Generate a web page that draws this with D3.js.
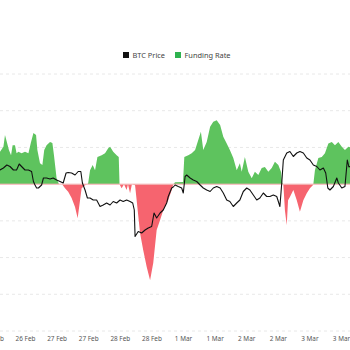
<!DOCTYPE html>
<html>
<head>
<meta charset="utf-8">
<script src="https://cdn.jsdelivr.net/npm/d3@7"></script>
<style>
  html, body { margin: 0; padding: 0; background: #fff; }
  svg { display: block; font-family: "Noto Sans", "Open Sans", sans-serif; }
</style>
</head>
<body>
<script>
"use strict";
// hours since 26 Feb 2025 00:00 UTC
const fundingHours = [1.4, 2.5, 3.8, 4.4, 5.1, 5.9, 6.7, 7.3, 8.2, 8.8, 9.5, 10.7, 12.0, 13.3, 14.2, 15.2, 16.2, 16.7, 17.7, 18.6,
  19.3, 20.2, 21.5, 22.4, 23.0, 24.0, 24.9, 26.1, 27.2, 28.4, 29.7, 31.0, 32.0, 32.9, 33.5, 34.8, 35.7, 36.0, 36.7, 37.7,
  38.6, 39.5, 41.1, 42.4, 43.6, 44.3, 45.5, 46.8, 47.6, 47.9, 48.7, 49.6, 50.6, 51.1, 51.9, 52.6, 53.8, 54.4, 55.7, 56.9,
  58.2, 59.5, 60.7, 62.0, 63.3, 64.5, 65.8, 66.4, 67.7, 68.3, 69.0, 72.0, 72.5, 74.0, 75.3, 76.6, 77.8, 78.8, 79.7, 81.0,
  82.3, 83.5, 84.8, 86.1, 87.3, 88.6, 89.8, 91.1, 92.4, 93.6, 94.3, 95.5, 96.8, 98.1, 99.3, 100.6, 101.9, 103.1, 104.4, 105.7,
  106.9, 108.2, 109.2, 109.7, 110.1, 110.7, 111.4, 111.9, 112.6, 113.9, 115.2, 116.4, 117.7, 119.0, 120.2, 121.3, 121.5, 122.1, 123.4, 124.7,
  125.9, 127.2, 128.5, 129.7, 131.0, 132.3, 133.5, 134.8, 136.6];
const fundingRates = [0.0084, 0.0088, 0.0102, 0.0134, 0.0115, 0.0093, 0.0079, 0.0106, 0.0106, 0.0084, 0.0088, 0.0084, 0.0088, 0.0084, 0.0112, 0.0139, 0.0134, 0.0093, 0.0057, 0.0052,
  0.0093, 0.0106, 0.0115, 0.0112, 0.0079, 0.0016, 0, 0, -0.0011, -0.0021, -0.0038, -0.0062, -0.0093, -0.0044, -0.0011, -0.0003, 0, 0.0003, 0.0038, 0.0052,
  0.0038, 0.0074, 0.0079, 0.0084, 0.0098, 0.0102, 0.0088, 0.0079, 0.0074, 0, -0.0011, 0, -0.0016, 0, -0.0025, 0, -0.0003, -0.0044, -0.0134, -0.0180,
  -0.0225, -0.0262, -0.0215, -0.0125, -0.0098, -0.0071, -0.0052, -0.0044, -0.0016, 0, 0.0005, 0.0006, 0.0074, 0.0079, 0.0084, 0.0093, 0.0120, 0.0143, 0.0093, 0.0115,
  0.0156, 0.0170, 0.0174, 0.0161, 0.0129, 0.0111, 0.0093, 0.0071, 0.0038, 0.0057, 0.0034, 0.0074, 0.0034, 0.0016, 0.0034, 0.0025, 0.0044, 0.0047, 0.0034, 0.0044,
  0.0061, 0.0052, 0.0034, 0.0003, 0, -0.0071, -0.0112, -0.0044, -0.0035, -0.0016, -0.0044, -0.0075, -0.0044, -0.0025, -0.0011, -0.0003, 0, 0.0038, 0.0071, 0.0074,
  0.0084, 0.0111, 0.0115, 0.0106, 0.0115, 0.0102, 0.0093, 0.0102, 0.0098];
const priceHours = [1.4, 2.5, 3.8, 5.1, 6.3, 7.6, 8.8, 9.8, 10.7, 12.0, 13.3, 14.5, 15.2, 15.8, 16.4, 17.1, 18.3, 19.0, 20.2, 21.5,
  22.7, 24.0, 25.3, 26.5, 27.6, 28.4, 29.7, 31.0, 32.2, 33.2, 33.8, 34.8, 35.7, 36.7, 37.9, 39.2, 40.5, 41.7, 43.0, 44.3,
  45.5, 46.8, 48.1, 49.3, 50.6, 51.9, 52.9, 53.5, 53.8, 55.0, 56.3, 57.6, 58.8, 60.1, 61.0, 62.0, 63.3, 64.5, 65.8, 66.4,
  67.7, 68.3, 69.0, 70.2, 71.5, 72.1, 72.8, 73.4, 74.7, 75.9, 77.2, 78.5, 79.7, 81.0, 82.3, 83.5, 84.8, 86.1, 87.3, 88.6,
  89.8, 91.1, 92.4, 93.6, 94.9, 96.2, 97.4, 98.7, 100.0, 101.2, 102.5, 103.8, 105.0, 106.3, 107.6, 108.8, 109.5, 110.1, 111.4, 112.6,
  113.9, 115.2, 116.4, 117.7, 119.0, 120.2, 121.5, 122.8, 124.0, 125.3, 126.2, 127.0, 127.8, 129.1, 130.4, 131.0, 132.3, 133.5, 134.4, 135.0, 136.2];
const prices = [91800, 92000, 92400, 93000, 92700, 92000, 92000, 93200, 92700, 92000, 92000, 91700, 89700, 89000, 88400, 88400, 89000, 90400, 90400, 90200,
  90400, 90000, 89700, 89400, 91400, 91500, 91400, 91000, 91700, 91700, 89400, 88000, 86400, 86400, 86000, 86000, 84700, 85000, 85400, 85000,
  85700, 85400, 86000, 85700, 86000, 85700, 85400, 84000, 78700, 79700, 79400, 80000, 80400, 80700, 83400, 82400, 83400, 84000, 85400, 86700,
  88400, 88600, 89000, 88700, 88400, 87400, 90700, 91000, 90400, 90000, 89700, 89000, 88400, 88000, 87700, 88400, 88700, 88400, 87400, 86000,
  85700, 84700, 85400, 86000, 87700, 88400, 88000, 87000, 86000, 86400, 87400, 86700, 86700, 87000, 86700, 84700, 89400, 94000, 95400, 95700,
  94700, 95400, 95700, 95400, 94400, 94000, 93000, 92700, 92000, 92400, 91400, 88400, 88000, 88700, 90400, 89400, 88400, 88700, 94000, 92600, 93000];
const legendLabels = ["BTC Price", "Funding Rate"];
const rateTicks = [-0.04, -0.03, -0.02, -0.01, 0, 0.01, 0.02, 0.03];

const w = 350, h = 350;
const t0 = Date.UTC(2025, 1, 26, 0);
const toDate = (hr) => new Date(t0 + hr * 3600e3);
const green = "#5ec35e", red = "#f6646f";

const svg = d3.select("body").append("svg").attr("width", w).attr("height", h);
svg.append("rect").attr("width", w).attr("height", h).attr("fill", "#fff");

const x = d3.scaleUtc().domain([toDate(0), toDate(132)]).range([-6.6, 341]);
const yRate = d3.scaleLinear().domain([-0.04, 0.03]).range([331, 74]);
const yPrice = d3.scaleLinear().domain([78000, 96000]).range([240, 150]);

// gridlines
svg.append("g").selectAll("line").data(rateTicks.filter(d => d !== 0)).enter().append("line")
  .attr("x1", 0).attr("x2", w).attr("y1", d => yRate(d)).attr("y2", d => yRate(d))
  .attr("stroke", "#e8e8e8").attr("stroke-dasharray", "3,3");

const funding = fundingHours.map((hr, i) => ({ t: toDate(hr), v: fundingRates[i] }));
const area = d3.area().x(d => x(d.t)).y0(yRate(0)).y1(d => yRate(d.v));

const defs = svg.append("defs");
defs.append("clipPath").attr("id", "above").append("rect")
  .attr("x", 0).attr("y", 0).attr("width", w).attr("height", yRate(0));
defs.append("clipPath").attr("id", "below").append("rect")
  .attr("x", 0).attr("y", yRate(0)).attr("width", w).attr("height", h - yRate(0));

svg.append("path").datum(funding).attr("d", area).attr("fill", green).attr("clip-path", "url(#above)");
svg.append("path").datum(funding).attr("d", area).attr("fill", red).attr("clip-path", "url(#below)");

// zero line
svg.append("line").attr("x1", 0).attr("x2", w).attr("y1", yRate(0)).attr("y2", yRate(0))
  .attr("stroke", "#f7b3b7").attr("stroke-width", 1);

const price = priceHours.map((hr, i) => ({ t: toDate(hr), p: prices[i] }));
svg.append("path").datum(price)
  .attr("d", d3.line().x(d => x(d.t)).y(d => yPrice(d.p)))
  .attr("fill", "none").attr("stroke", "#111").attr("stroke-width", 1.1).attr("stroke-linejoin", "round");

// x axis
const xAxis = d3.axisBottom(x).tickValues(d3.utcHour.every(12).range(toDate(0), toDate(133)))
  .tickFormat(d3.utcFormat("%-d %b")).tickSize(0).tickPadding(5);
const gx = svg.append("g").attr("transform", "translate(0," + 331 + ")").call(xAxis);
gx.select(".domain").remove();
gx.selectAll("text").attr("font-size", 6.4).attr("fill", "#555").attr("font-family", "Noto Sans, sans-serif");

// legend
const legend = svg.append("g").attr("font-size", 7.4).attr("fill", "#444");
const lx = [123, 175];
const lc = ["#111", "#2fb24f"];
legendLabels.forEach((lab, i) => {
  legend.append("rect").attr("x", lx[i]).attr("y", 52).attr("width", 6).attr("height", 6).attr("fill", lc[i]);
  legend.append("text").attr("x", lx[i] + 9.5).attr("y", 58).text(lab);
});
</script>
</body>
</html>
